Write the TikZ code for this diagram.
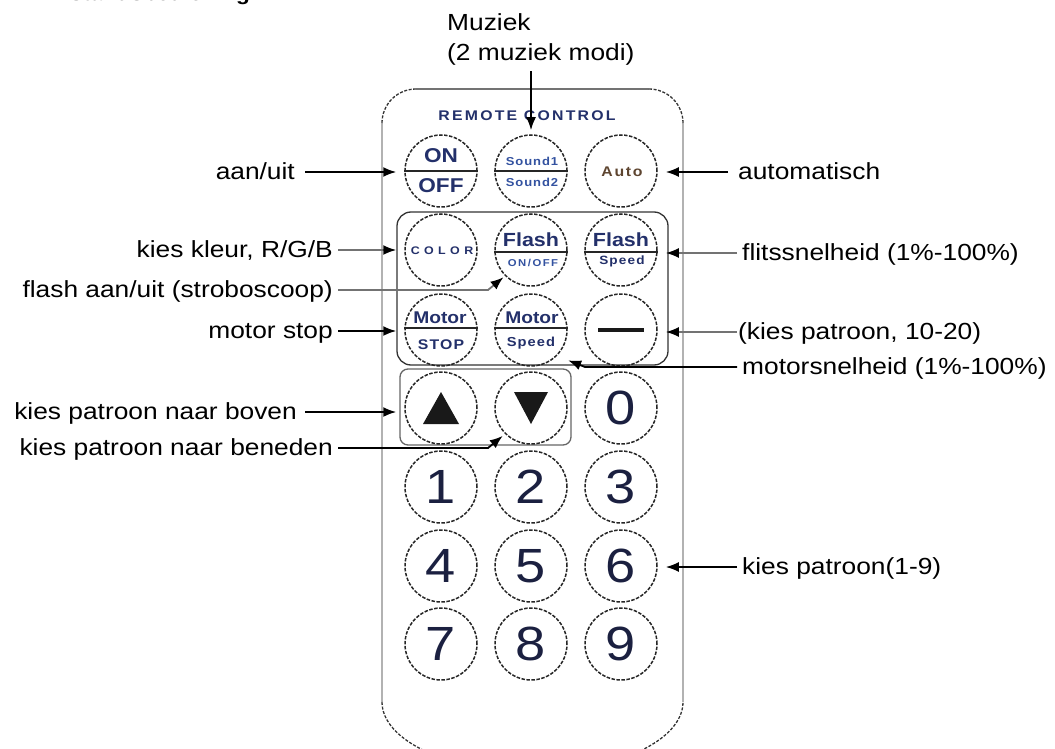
\documentclass[tikz,border=0pt]{standalone}
\usepackage{fontspec}
\setmainfont{Liberation Sans}[FakeStretch=1.13]
\usetikzlibrary{arrows.meta}
\definecolor{keyink}{HTML}{23306A}
\definecolor{keyblue}{HTML}{3352A0}
\definecolor{keybrown}{HTML}{5E4530}
\definecolor{digitink}{HTML}{1B2040}
\newcommand{\fsz}[1]{\fontsize{#1}{#1}\selectfont}

\begin{document}
\begin{tikzpicture}[x=1pt,y=-1pt,
  btn/.style={circle,draw=black!85,line width=1.5pt,dash pattern=on 3.5pt off 1.5pt,
              minimum size=72pt,inner sep=0pt},
  digit/.style={btn,text=digitink,font=\fsz{48}},
  bt/.style={inner sep=0pt,text=keyink},
  divider/.style={line width=1.8pt,black!85},
  lbl/.style={inner sep=0pt,text height=14pt,text depth=0pt,font=\fontsize{23.3}{28}\selectfont},
  arr/.style={line width=1.8pt,-{Latex[length=13pt,width=10pt]}},
  arrg/.style={line width=1.8pt,black!55,-{Latex[length=13pt,width=10pt,color=black]}},
  side/.style={line width=1.2pt,black!30},
  corner/.style={line width=1.3pt,black!80,dash pattern=on 3pt off 1.6pt},
  panel/.style={line width=1.3pt,black!80,rounded corners=14pt},
  panelb/.style={line width=1.3pt,black!60,rounded corners=8pt}]

\useasboundingbox (0,0) rectangle (1055,749);

% heading, mostly above the page edge
\node[anchor=base east,inner sep=0pt,font=\bfseries\fsz{20}] (title) at (250,0.3) {Afstandsbediening};

% remote control housing
\draw[side] (382,123) -- (382,702);
\draw[side] (683,123) -- (683,702);
\draw[corner] (382,123) arc[start angle=180,end angle=90,radius=34pt];
\draw[line width=2.5pt,black!55] (416,89) -- (649,89);
\draw[corner] (649,89) arc[start angle=90,end angle=0,radius=34pt];
\draw[corner] (382,702) arc[start angle=180,end angle=360,x radius=150.5pt,y radius=70pt];

\node[font=\bfseries\fsz{14}\addfontfeature{LetterSpace=16},text=keyink,inner sep=0pt] (rc) at (527,116) {REMOTE CONTROL};

% grouped key panels
\draw[panel] (397,212) rectangle (668,365);
\draw[panelb] (400,369) rectangle (571,445);

% row 1
\node[btn] (onoff) at (441,171) {};
\node[bt,font=\bfseries\fsz{20}] (onT) at (441,156) {ON};
\node[bt,font=\bfseries\fsz{20}] (onB) at (441,186) {OFF};
\draw[divider] (onoff.west) -- (onoff.east);

\node[btn] (snd) at (531,171) {};
\node[bt,text=keyblue,font=\bfseries\fsz{11.5}\addfontfeature{LetterSpace=8}] (sndT) at (532,161) {Sound1};
\node[bt,text=keyblue,font=\bfseries\fsz{11.5}\addfontfeature{LetterSpace=8}] (sndB) at (532,182) {Sound2};
\draw[divider] (snd.west) -- (snd.east);

\node[btn] (autob) at (621,171) {};
\node[bt,text=keybrown,font=\bfseries\fsz{14}\addfontfeature{LetterSpace=12}] (autoT) at (622,172) {Auto};

% row 2
\node[btn] (colb) at (441,250) {};
\node[bt,font=\bfseries\fsz{11}\addfontfeature{LetterSpace=40}] (colT) at (442,251) {COLOR};

\node[btn] (fon) at (531,250) {};
\node[bt,font=\bfseries\fsz{19}] (fonT) at (531,240) {Flash};
\node[bt,text=keyblue,font=\bfseries\fsz{10}\addfontfeature{LetterSpace=15}] (fonB) at (533,263) {ON/OFF};
\draw[divider] ([yshift=-2pt]fon.west) -- ([yshift=-2pt]fon.east);

\node[btn] (fsp) at (621,250) {};
\node[bt,font=\bfseries\fsz{19}] (fspT) at (621,240) {Flash};
\node[bt,font=\bfseries\fsz{12}\addfontfeature{LetterSpace=10}] (fspB) at (622,261) {Speed};
\draw[divider] ([yshift=-2pt]fsp.west) -- ([yshift=-2pt]fsp.east);

% row 3
\node[btn] (mst) at (441,330) {};
\node[bt,font=\bfseries\fsz{17}] (mstT) at (440,318) {Motor};
\node[bt,font=\bfseries\fsz{14}\addfontfeature{LetterSpace=8}] (mstB) at (441,345) {STOP};
\draw[divider] ([yshift=2pt]mst.west) -- ([yshift=2pt]mst.east);

\node[btn] (msp) at (531,330) {};
\node[bt,font=\bfseries\fsz{17}] (mspT) at (532,318) {Motor};
\node[bt,font=\bfseries\fsz{13}\addfontfeature{LetterSpace=8}] (mspB) at (531,343) {Speed};
\draw[divider] ([yshift=2pt]msp.west) -- ([yshift=2pt]msp.east);

\node[btn] (dashb) at (621,330) {};
\draw[line width=3.5pt,black!90] ([xshift=-23pt]dashb.center) -- ([xshift=23pt]dashb.center);

% row 4
\node[btn] (upb) at (441,408) {};
\fill[black!90] ([shift={(-18pt,-16pt)}]upb.center) -- ([shift={(18pt,-16pt)}]upb.center)
  -- ([shift={(0pt,16pt)}]upb.center) -- cycle;
\node[btn] (dnb) at (531,408) {};
\fill[black!90] ([shift={(-17pt,16pt)}]dnb.center) -- ([shift={(17pt,16pt)}]dnb.center)
  -- ([shift={(0pt,-16pt)}]dnb.center) -- cycle;
\node[digit] (b0) at (621,408) {0};

% number keys
\node[digit] (b1) at (441,487) {1};
\node[digit] (b2) at (531,487) {2};
\node[digit] (b3) at (621,487) {3};
\node[digit] (b4) at (441,566) {4};
\node[digit] (b5) at (531,566) {5};
\node[digit] (b6) at (621,566) {6};
\node[digit] (b7) at (441,644) {7};
\node[digit] (b8) at (531,644) {8};
\node[digit] (b9) at (621,644) {9};

% labels
\node[anchor=north west,inner sep=0pt,align=left,font=\fontsize{23.3}{30}\selectfont] (lMuziek) at (447,13) {Muziek\\(2 muziek modi)};
\node[lbl,anchor=east] (lAan) at (295,172) {aan/uit};
\node[lbl,anchor=west] (lAuto) at (738,172) {automatisch};
\node[lbl,anchor=east] (lKleur) at (333,250) {kies kleur, R/G/B};
\node[lbl,anchor=east] (lFlash) at (333,290) {flash aan/uit (stroboscoop)};
\node[lbl,anchor=east] (lMstop) at (333,331) {motor stop};
\node[lbl,anchor=east] (lBoven) at (297,412) {kies patroon naar boven};
\node[lbl,anchor=east] (lBeneden) at (333,448) {kies patroon naar beneden};
\node[lbl,anchor=west] (lFlits) at (742,253) {flitssnelheid (1\%-100\%)};
\node[lbl,anchor=west] (lKp) at (738,332) {(kies patroon, 10-20)};
\node[lbl,anchor=west] (lMsnel) at (742,367) {motorsnelheid (1\%-100\%)};
\node[lbl,anchor=west] (lKp9) at (742,567) {kies patroon(1-9)};

% bends of the angled leaders
\coordinate (flashBend) at (488,290);
\coordinate (benBend) at (488,448);
\coordinate (msBend) at (585,367);

% leaders
\draw[arr,shorten <=6pt,shorten >=4pt] (lMuziek.south -| snd.north) -- (snd.north);
\draw[arr,shorten <=10pt,shorten >=8pt] (lAan.east) -- (lAan.east -| onoff.west);
\draw[arr,shorten <=10pt,shorten >=8pt] (lAuto.west) -- (lAuto.west -| autob.east);
\draw[arrg,shorten <=5pt,shorten >=8pt] (lKleur.east) -- (lKleur.east -| colb.west);
\draw[arrg,shorten <=5pt,shorten >=2pt] (lFlash.east) -- (flashBend) -- (fon.south west);
\draw[arr,shorten <=5pt,shorten >=8pt] (lMstop.east) -- (lMstop.east -| mst.west);
\draw[arr,shorten <=8pt,shorten >=8pt] (lBoven.east) -- (lBoven.east -| upb.west);
\draw[arr,shorten <=5pt,shorten >=3pt] (lBeneden.east) -- (benBend) -- (dnb.south west);
\draw[arrg,shorten <=5pt,shorten >=8pt] (lFlits.west) -- (lFlits.west -| fsp.east);
\draw[arrg,shorten <=1pt,shorten >=8pt] (lKp.west) -- (lKp.west -| dashb.east);
\draw[arr,shorten <=5pt,shorten >=12pt] (lMsnel.west) -- (msBend) -- (msp.south east);
\draw[arr,shorten <=5pt,shorten >=8pt] (lKp9.west) -- (lKp9.west -| b6.east);
\end{tikzpicture}
\end{document}
